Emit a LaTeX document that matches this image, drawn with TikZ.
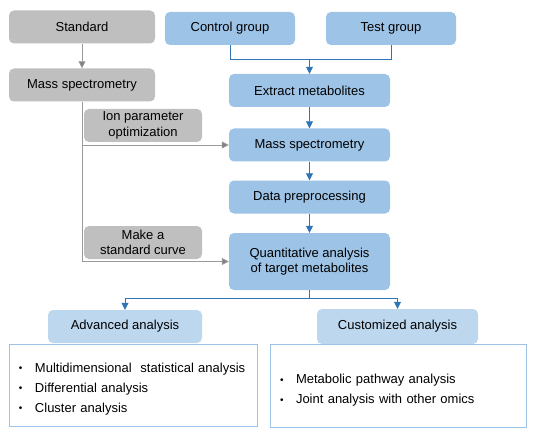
\documentclass[tikz,border=0pt]{standalone}
\usepackage{fontspec}
\setmainfont{Liberation Sans}
\usetikzlibrary{arrows.meta,positioning,calc}
\definecolor{boxblue}{HTML}{9DC3E6}
\definecolor{lightblue}{HTML}{BDD7EE}
\definecolor{boxgray}{HTML}{BFBFBF}
\definecolor{arrowblue}{HTML}{2E75B6}
\definecolor{linegray}{HTML}{9A9A9A}
\definecolor{tipgray}{HTML}{808080}

\tikzset{
  stepbox/.style={rounded corners=5pt, inner sep=0pt, minimum height=33pt,
    align=center, font=\fontsize{13}{15.5}\selectfont},
  bluebox/.style={stepbox, fill=boxblue},
  graybox/.style={stepbox, fill=boxgray},
  lightbox/.style={stepbox, fill=lightblue},
  listbox/.style={draw=boxblue, line width=0.8pt, inner xsep=6pt, inner ysep=0pt,
    align=left, font=\fontsize{13}{20}\selectfont},
  bluearrow/.style={draw=arrowblue, line width=0.8pt, -{Triangle[width=7pt,length=7pt]}},
  bluelink/.style={draw=arrowblue, line width=0.8pt},
  grayarrow/.style={draw=linegray, line width=0.8pt, -{Triangle[width=7pt,length=7pt,fill=tipgray]}},
  graylink/.style={draw=linegray, line width=0.8pt}
}
\newcommand{\lbullet}{\hspace*{4pt}\makebox[16pt][l]{\raisebox{0.5pt}{\fontsize{10}{10}\selectfont\textbullet}}}

\begin{document}
\begin{tikzpicture}[x=1pt,y=-1pt]
\useasboundingbox (0,0) rectangle (539,428);

% standard branch
\node[graybox, minimum width=146pt] (std) at (82,27) {Standard};
\node[graybox, minimum width=146pt] (msstd) at (82,85) {Mass spectrometry};
\node[graybox, minimum width=118pt] (ion) at (143,125.5) {Ion parameter\\optimization};
\node[graybox, minimum width=118pt] (curve) at (143,242.5) {Make a\\standard curve};

% sample branch
\node[bluebox, minimum width=130pt] (ctrl) at (230,28.5) {Control group};
\node[bluebox, minimum width=130pt] (test) at (391,28.5) {Test group};
\node[bluebox, minimum width=161pt] (extract) at (309.5,90.5) {Extract metabolites};
\node[bluebox, minimum width=161pt] (ms) at (309.5,145) {Mass spectrometry};
\node[bluebox, minimum width=161pt] (prep) at (309.5,197) {Data preprocessing};
\node[bluebox, minimum width=161pt, minimum height=57pt] (quant) at (309.5,261.5)
  {Quantitative analysis\\of target metabolites};

% analysis
\node[lightbox, minimum width=154pt] (adv) at (125,326.5) {Advanced analysis};
\node[lightbox, minimum width=161pt, minimum height=35pt] (cust) at (397.5,326.5) {Customized analysis};
\node[listbox, minimum width=248pt, minimum height=82pt, text width=236pt] (advlist) at (133,385)
  {\rule{0pt}{17pt}\lbullet Multidimensional\ \ statistical analysis\\
   \lbullet Differential analysis\\
   \lbullet Cluster analysis};
\node[listbox, minimum width=256pt, minimum height=83pt, text width=244pt] (custlist) at (398,385.5)
  {\rule{0pt}{19.5pt}\lbullet Metabolic pathway analysis\\
   \lbullet Joint analysis with other omics};

% gray connectors
\draw[grayarrow] (std) -- (msstd);
\draw[graylink] (msstd.south) -- (msstd.south |- quant.west);
\draw[grayarrow] (msstd.south |- ms.west) -- (ms.west);
\draw[grayarrow] (msstd.south |- quant.west) -- (quant.west);

% blue connectors
\coordinate (join) at ($(extract.north)+(0,-14)$);
\draw[bluelink] (ctrl.south) |- (join) -| (test.south);
\draw[bluearrow] (join) -- (extract);
\draw[bluearrow] (extract) -- (ms);
\draw[bluearrow] (ms) -- (prep);
\draw[bluearrow] (prep) -- (quant);
\coordinate (split) at ($(quant.south)+(0,8)$);
\draw[bluelink] (quant.south) -- (split);
\draw[bluearrow] (split) -| (adv.north);
\draw[bluearrow] (split) -| (cust.north);
\end{tikzpicture}
\end{document}
